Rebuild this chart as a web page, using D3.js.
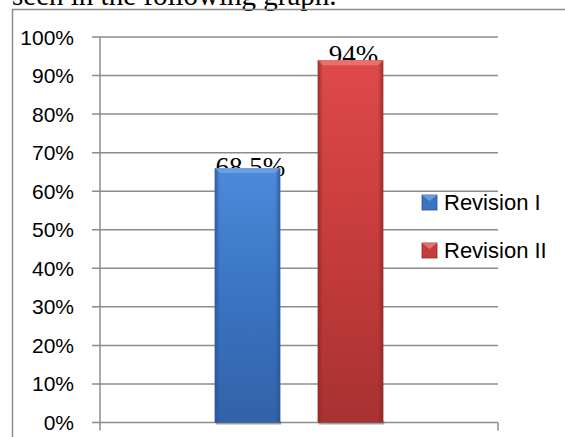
<!DOCTYPE html>
<html>
<head>
<meta charset="utf-8">
<script src="https://cdn.jsdelivr.net/npm/d3@7"></script>
<style>
  body { margin: 0; background: #fff; }
  svg { display: block; }
</style>
</head>
<body>
<div class="chart"></div>
<script>
const width = 565
const height = 437

// data
const series = ['Revision I', 'Revision II']
const values = [0.66, 0.94]          // bar heights as drawn
const labels = ['68.5%', '94%']      // printed labels
const yTicks = [0, 0.1, 0.2, 0.3, 0.4, 0.5, 0.6, 0.7, 0.8, 0.9, 1]
const colors = [
    {top: '#4d8ad9', mid: '#3a74c2', bot: '#3262a8', edge: '#2a5290', light: '#7eaee8'},
    {top: '#de4a49', mid: '#c63c3c', bot: '#a83232', edge: '#8a2727', light: '#ef8a88'}
]

const svg = d3.select('.chart').append('svg')
    .attr('width', width)
    .attr('height', height)
    .attr('viewBox', [0, 0, width, height])

// bit of body text from the page above the chart
svg.append('text')
    .attr('x', 12).attr('y', 5)
    .attr('font-family', '"Liberation Serif", "Times New Roman", serif')
    .attr('font-size', 29)
    .text('seen in the following graph.')

// frame
svg.append('path')
    .attr('d', `M12.5,${height} V9.5 H${width}`)
    .attr('fill', 'none')
    .attr('stroke', '#8c8c8c')
    .attr('stroke-width', 1.5)

const x0 = 100, x1 = 498
const y = d3.scaleLinear().domain([0, 1]).range([422.5, 37])

const x = d3.scaleBand().domain(series).range([x0, x1]).paddingInner(0.364).paddingOuter(1.114)

// gradients
const defs = svg.append('defs')
colors.forEach((c, i) => {
    const g = defs.append('linearGradient').attr('id', 'g' + i)
        .attr('x1', 0).attr('y1', 0).attr('x2', 0).attr('y2', 1)
    g.append('stop').attr('offset', 0).attr('stop-color', c.top)
    g.append('stop').attr('offset', 0.5).attr('stop-color', c.mid)
    g.append('stop').attr('offset', 1).attr('stop-color', c.bot)
    const h = defs.append('linearGradient').attr('id', 'h' + i)
        .attr('x1', 0).attr('y1', 0).attr('x2', 1).attr('y2', 0)
    h.append('stop').attr('offset', 0).attr('stop-color', c.edge).attr('stop-opacity', 0.8)
    h.append('stop').attr('offset', 0.08).attr('stop-color', c.edge).attr('stop-opacity', 0)
    h.append('stop').attr('offset', 0.92).attr('stop-color', c.edge).attr('stop-opacity', 0)
    h.append('stop').attr('offset', 1).attr('stop-color', c.edge).attr('stop-opacity', 0.8)
})

// gridlines
svg.append('g')
    .selectAll('line')
    .data(yTicks)
    .join('line')
    .attr('x1', x0 - 8).attr('x2', x1)
    .attr('y1', d => y(d)).attr('y2', d => y(d))
    .attr('stroke', '#8c8c8c')
    .attr('stroke-width', 1.5)

// axes lines
svg.append('line')
    .attr('x1', x0).attr('x2', x0)
    .attr('y1', y(1)).attr('y2', y(0) + 8)
    .attr('stroke', '#8c8c8c').attr('stroke-width', 1.5)
svg.append('line')
    .attr('x1', x1).attr('x2', x1)
    .attr('y1', y(0)).attr('y2', y(0) + 8)
    .attr('stroke', '#8c8c8c').attr('stroke-width', 1.5)

// y labels
svg.append('g')
    .selectAll('text')
    .data(yTicks)
    .join('text')
    .attr('x', 74)
    .attr('y', d => y(d) + 7.5)
    .attr('text-anchor', 'end')
    .attr('font-family', '"Liberation Sans", Arial, sans-serif')
    .attr('font-size', 21)
    .attr('fill', '#000')
    .text(d3.format('.0%'))

// value labels (drawn under bars, bars overlap them)
svg.append('g')
    .selectAll('text')
    .data(values)
    .join('text')
    .attr('x', (d, i) => x(series[i]) + x.bandwidth() / 2 + 3)
    .attr('y', (d, i) => y(d) + (i === 0 ? 8 : 4))
    .attr('text-anchor', 'middle')
    .attr('font-family', '"Liberation Serif", "Times New Roman", serif')
    .attr('font-size', 27)
    .text((d, i) => labels[i])

// bars
const bars = svg.append('g')
    .selectAll('g')
    .data(values)
    .join('g')

bars.append('rect')
    .attr('x', (d, i) => x(series[i]) + 1)
    .attr('y', d => y(0) - 1)
    .attr('width', x.bandwidth())
    .attr('height', 3)
    .attr('fill', '#555').attr('opacity', 0.5)

bars.append('rect')
    .attr('x', (d, i) => x(series[i]))
    .attr('y', d => y(d))
    .attr('width', x.bandwidth())
    .attr('height', d => y(0) - y(d))
    .attr('fill', (d, i) => `url(#g${i})`)

bars.append('rect')
    .attr('x', (d, i) => x(series[i]))
    .attr('y', d => y(d))
    .attr('width', x.bandwidth())
    .attr('height', d => y(0) - y(d))
    .attr('fill', (d, i) => `url(#h${i})`)

// top bevel
bars.append('path')
    .attr('d', (d, i) => {
        const bx = x(series[i]), bw = x.bandwidth(), by = y(d)
        return `M${bx},${by} H${bx + bw} L${bx + bw - 5},${by + 5} H${bx + 5} Z`
    })
    .attr('fill', (d, i) => colors[i].light)
    .attr('opacity', 0.6)

// legend
const legend = svg.append('g')
    .selectAll('g')
    .data(series)
    .join('g')
    .attr('transform', (d, i) => `translate(422, ${195 + i * 48})`)

legend.append('rect')
    .attr('width', 15).attr('height', 15)
    .attr('fill', (d, i) => colors[i].mid)
    .attr('stroke', (d, i) => colors[i].edge)
    .attr('stroke-width', 0.8)
legend.append('path')
    .attr('d', 'M0,0 H15 L7.5,6 Z')
    .attr('fill', (d, i) => colors[i].light)
    .attr('opacity', 0.7)

legend.append('text')
    .attr('x', 22).attr('y', 15)
    .attr('font-family', '"Liberation Sans", Arial, sans-serif')
    .attr('font-size', 22)
    .attr('fill', '#000')
    .text(d => d)
</script>
</body>
</html>
